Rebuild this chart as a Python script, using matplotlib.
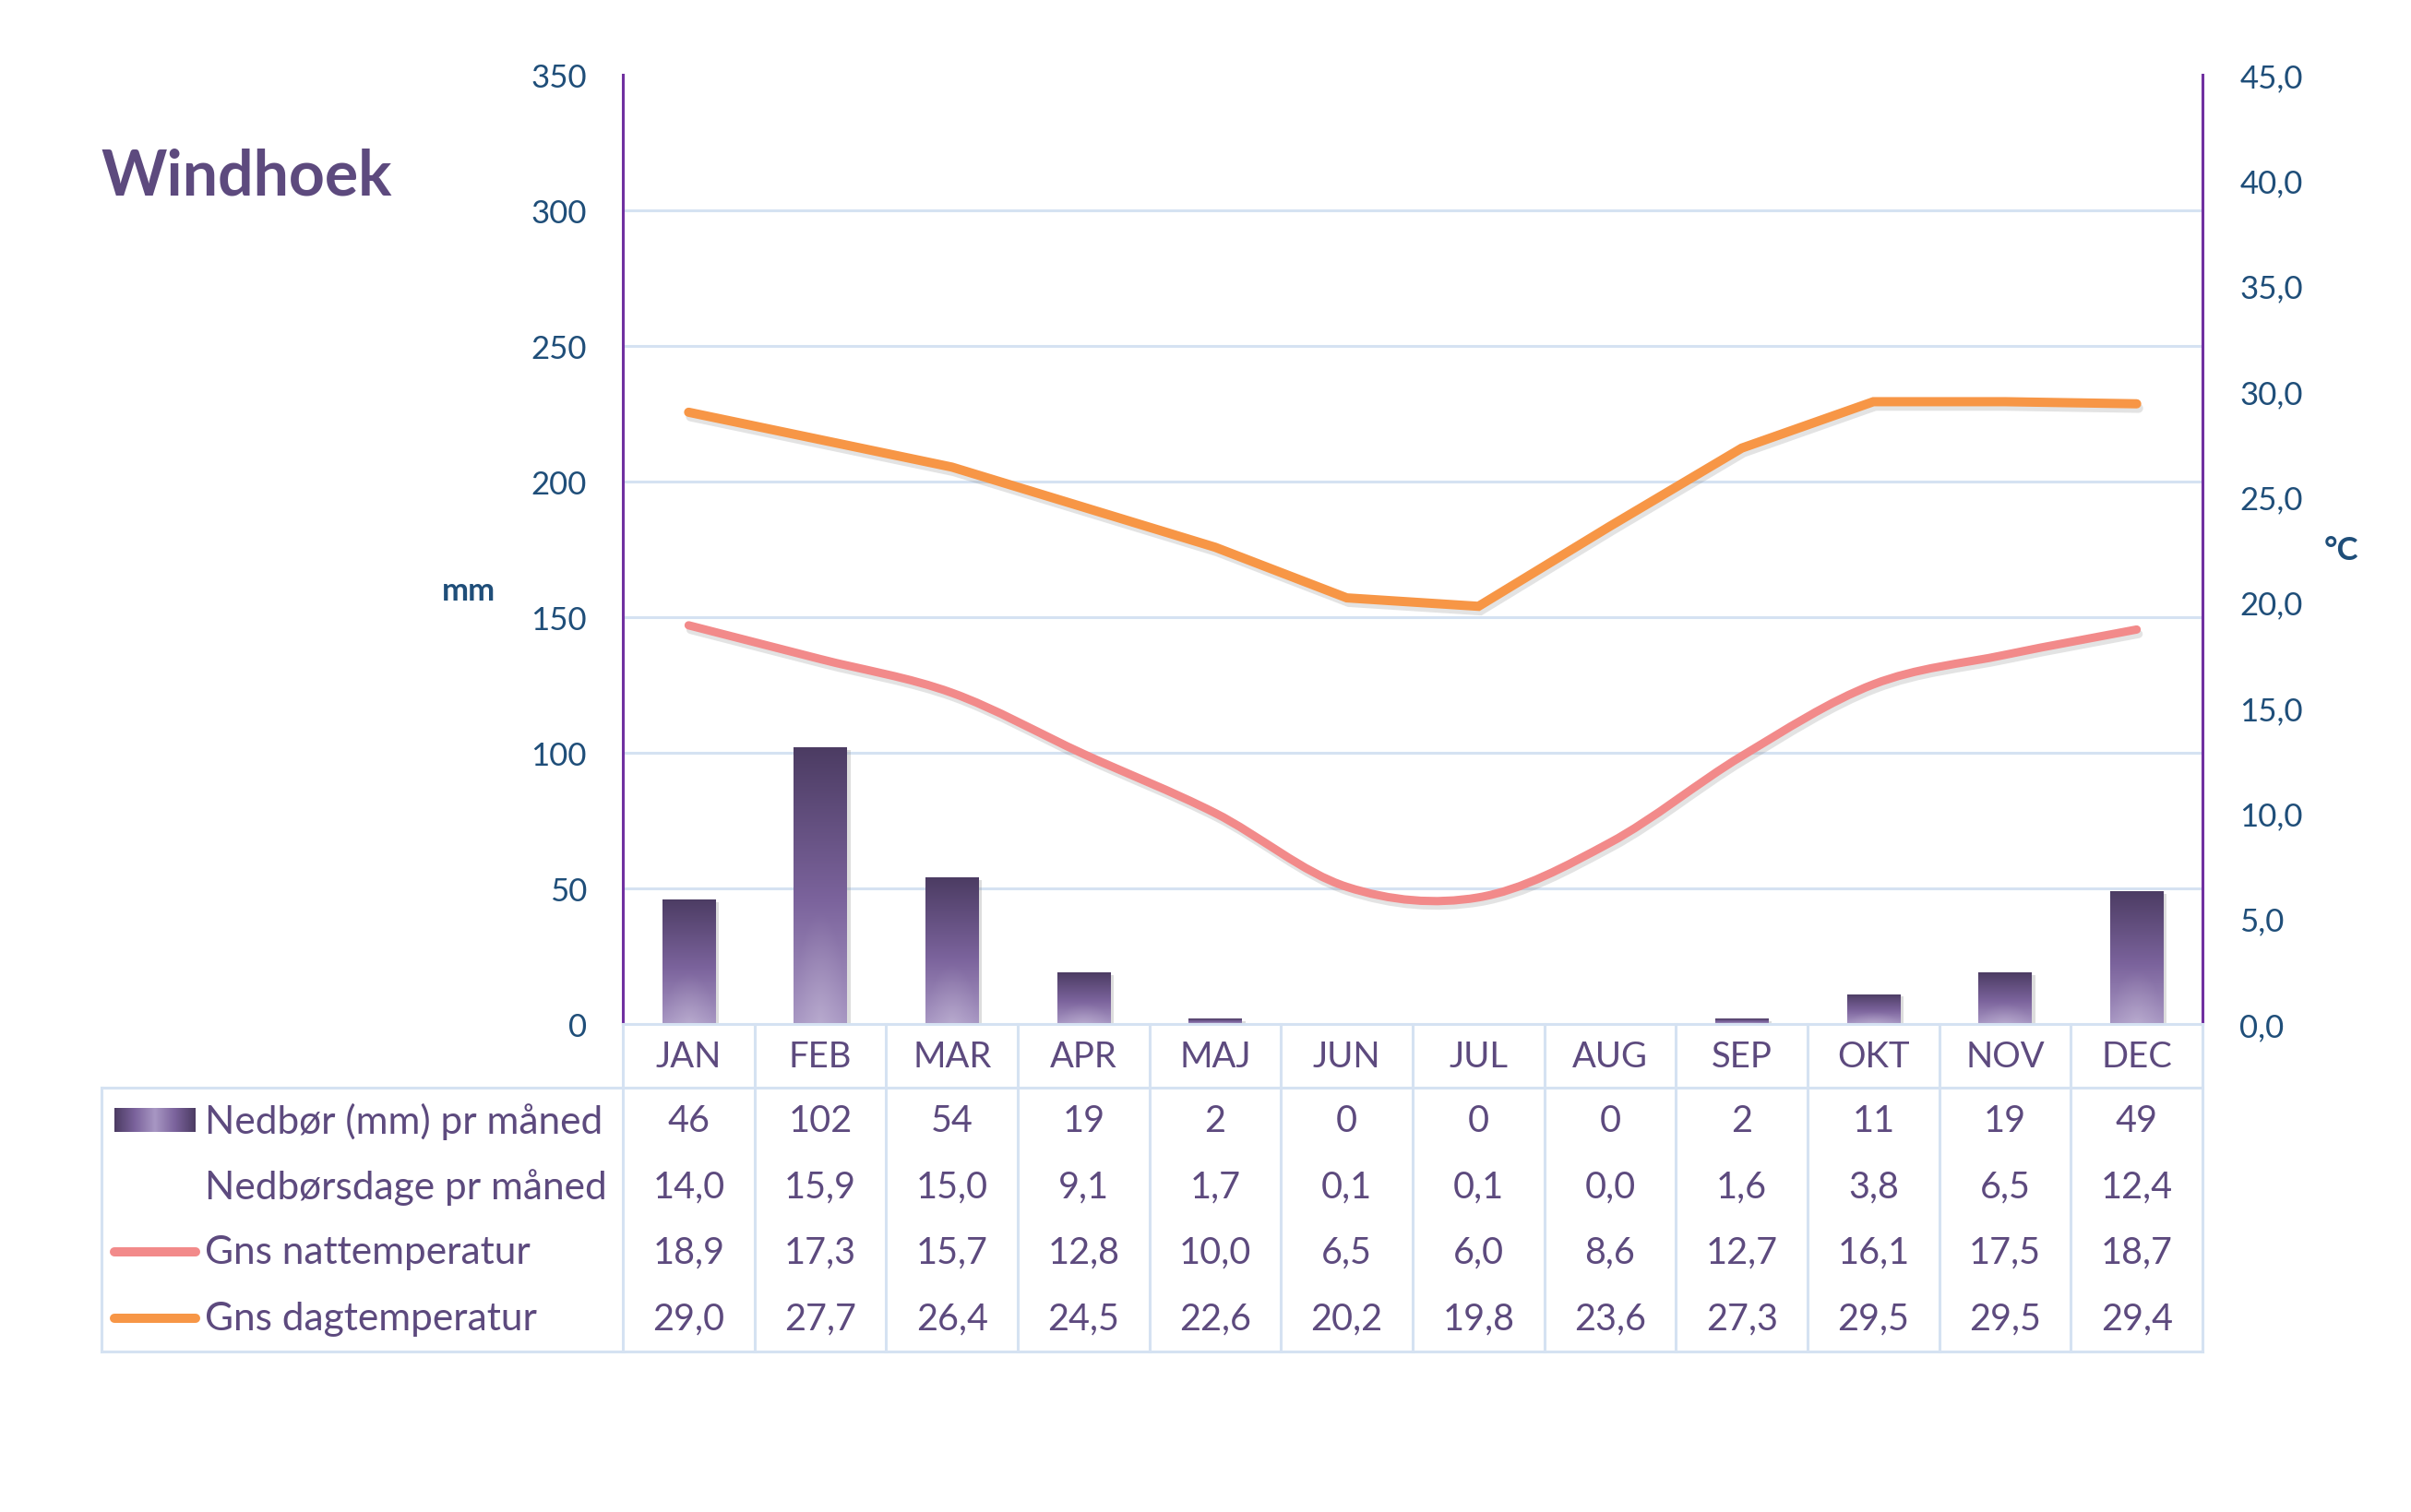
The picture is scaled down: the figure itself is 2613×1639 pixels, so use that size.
import numpy as np
import matplotlib
matplotlib.use("Agg")
import matplotlib.pyplot as plt
from matplotlib.path import Path
from matplotlib.patches import PathPatch
from matplotlib.ticker import FuncFormatter, MultipleLocator
import matplotlib.patheffects as pe

plt.rcParams['font.family'] = ['Lato', 'DejaVu Sans']

# data
months = ['JAN', 'FEB', 'MAR', 'APR', 'MAJ', 'JUN', 'JUL', 'AUG', 'SEP', 'OKT', 'NOV', 'DEC']
nedboer = [46, 102, 54, 19, 2, 0, 0, 0, 2, 11, 19, 49]
nedboersdage = [14.0, 15.9, 15.0, 9.1, 1.7, 0.1, 0.1, 0.0, 1.6, 3.8, 6.5, 12.4]
nattemp = [18.9, 17.3, 15.7, 12.8, 10.0, 6.5, 6.0, 8.6, 12.7, 16.1, 17.5, 18.7]
dagtemp = [29.0, 27.7, 26.4, 24.5, 22.6, 20.2, 19.8, 23.6, 27.3, 29.5, 29.5, 29.4]
row_labels = ['Nedbør (mm) pr måned', 'Nedbørsdage pr måned', 'Gns nattemperatur', 'Gns dagtemperatur']

# colours
PURPLE_TXT = '#5D4A7E'
BLUE_TXT = '#1F4E79'
AXIS_PURPLE = '#7030A0'
GRID = '#D5E2F2'
PINK = '#F28A8A'
ORANGE = '#F79646'

W, H = 2613, 1640
fig = plt.figure(figsize=(W / 100, H / 100), dpi=100)

# axes position in pixels
AX_L, AX_R, AX_T, AX_B = 675, 2387, 82, 1111
ax = fig.add_axes([AX_L / W, 1 - AX_B / H, (AX_R - AX_L) / W, (AX_B - AX_T) / H])
ax2 = ax.twinx()
n = len(months)
x = np.arange(n)

for a in (ax, ax2):
    for s in ('top', 'bottom', 'left', 'right'):
        a.spines[s].set_visible(False)
    a.tick_params(length=0)
    a.set_xticks([])
ax.spines['left'].set_visible(True)
ax.spines['left'].set_color(AXIS_PURPLE)
ax.spines['left'].set_linewidth(2.2)
ax2.spines['right'].set_visible(True)
ax2.spines['right'].set_color(AXIS_PURPLE)
ax2.spines['right'].set_linewidth(2.2)

ax.yaxis.set_major_locator(MultipleLocator(50))
ax2.yaxis.set_major_locator(MultipleLocator(5))
ax2.yaxis.set_major_formatter(FuncFormatter(lambda v, p: f"{v:.1f}".replace('.', ',')))
ax.tick_params(axis='y', labelsize=25, labelcolor=BLUE_TXT, pad=28)
ax2.tick_params(axis='y', labelsize=25, labelcolor=BLUE_TXT, pad=29)

for yv in range(50, 301, 50):
    ax.axhline(yv, color=GRID, lw=2.2, zorder=0)

# bars with gradient fill
grad_cols = np.array([[0x4C, 0x3C, 0x63], [0x7B, 0x63, 0x9C], [0xA8, 0x97, 0xC3]]) / 255.0
bars = ax.bar(x, nedboer, width=0.4, color='#7B639C', zorder=2,
              path_effects=[pe.SimplePatchShadow(offset=(3, -2), shadow_rgbFace='#909090', alpha=0.3),
                            pe.Normal()])
for b, v in zip(bars, nedboer):
    if v <= 0:
        continue
    t = np.linspace(0, 1, 200)[:, None]
    img = np.zeros((200, 40, 3))
    for c in range(3):
        img[:, :, c] = np.interp(t, [0, 0.55, 1], grad_cols[:, c])
    xx = np.linspace(-1, 1, 40)[None, :]
    rad = np.clip(1 - np.sqrt(xx ** 2 + ((1 - t) * 2.5) ** 2), 0, 1)
    img = img + (1 - img) * 0.18 * rad[:, :, None]
    im = ax.imshow(img, extent=(b.get_x(), b.get_x() + b.get_width(), 0, v),
                   aspect='auto', origin='upper', zorder=3, interpolation='bilinear')
    im.set_clip_path(b)
ax.set_xlim(-0.5, n - 0.5)
ax.set_ylim(0, 350)
ax2.set_ylim(0, 45)

shadow = [pe.SimpleLineShadow(offset=(1.5, -3.5), shadow_color='#808080', alpha=0.22), pe.Normal()]

# day temperature: straight segments
ax2.plot(x, dagtemp, color=ORANGE, lw=7.2, solid_capstyle='round', solid_joinstyle='miter',
         zorder=5, path_effects=shadow)

# night temperature: smoothed bezier
verts = [(x[0], nattemp[0])]
codes = [Path.MOVETO]
pts = np.column_stack([x, nattemp]).astype(float)
for i in range(n - 1):
    p0 = pts[max(i - 1, 0)]
    p1 = pts[i]
    p2 = pts[i + 1]
    p3 = pts[min(i + 2, n - 1)]
    c1 = p1 + (p2 - p0) / 6.0
    c2 = p2 - (p3 - p1) / 6.0
    verts += [tuple(c1), tuple(c2), tuple(p2)]
    codes += [Path.CURVE4] * 3
ax2.add_patch(PathPatch(Path(verts, codes), fill=False, edgecolor=PINK, lw=6.5,
                        capstyle='round', zorder=5, path_effects=shadow))

# overlay in pixel coordinates for title, table and legend
ov = fig.add_axes([0, 0, 1, 1], zorder=10)
ov.axis('off')
ov.patch.set_alpha(0)

ov.text(109, 212, 'Windhoek', fontsize=49, fontweight='bold', color=PURPLE_TXT, ha='left', va='baseline')
ov.text(508, 641, 'mm', fontsize=25, fontweight='bold', color=BLUE_TXT, ha='center', va='center')
ov.text(2537, 597, '°C', fontsize=25, fontweight='bold', color=BLUE_TXT, ha='center', va='center')

TB_L = 110
HDR_B = 1180
TB_B = 1466
col_w = (AX_R - AX_L) / n
lw_t = 2.2
ov.plot([AX_L, AX_R], [AX_B, AX_B], color=GRID, lw=lw_t)
ov.plot([TB_L, AX_R], [HDR_B, HDR_B], color=GRID, lw=lw_t)
ov.plot([TB_L, AX_R], [TB_B, TB_B], color=GRID, lw=lw_t)
ov.plot([TB_L, TB_L], [HDR_B, TB_B], color=GRID, lw=lw_t)
for k in range(n + 1):
    xc = AX_L + k * col_w
    ov.plot([xc, xc], [AX_B, TB_B], color=GRID, lw=lw_t)

row_y = [1216, 1287, 1358, 1430]
for i, m in enumerate(months):
    xc = AX_L + (i + 0.5) * col_w
    ov.text(xc, 1146, m, fontsize=27.5, color=PURPLE_TXT, ha='center', va='center')
    vals = [str(nedboer[i]),
            f"{nedboersdage[i]:.1f}".replace('.', ','),
            f"{nattemp[i]:.1f}".replace('.', ','),
            f"{dagtemp[i]:.1f}".replace('.', ',')]
    for ry, v in zip(row_y, vals):
        ov.text(xc, ry, v, fontsize=28.5, color=PURPLE_TXT, ha='center', va='center')

for ry, lab in zip(row_y, row_labels):
    ov.text(222, ry, lab, fontsize=30.5, color=PURPLE_TXT, ha='left', va='center')

# legend keys
sw = np.zeros((50, 100, 3))
for c in range(3):
    sw[:, :, c] = np.interp(np.abs(np.linspace(-1, 1, 100))[None, :] * np.ones((50, 1)),
                            [0, 0.5, 1], grad_cols[::-1, c])
ov.imshow(sw, extent=(124, 212, 1228, 1202), aspect='auto', zorder=11)
ov.plot([124, 212], [1358, 1358], color=PINK, lw=7.2, solid_capstyle='round')
ov.plot([124, 212], [1430, 1430], color=ORANGE, lw=7.2, solid_capstyle='round')
ov.set_xlim(0, W)
ov.set_ylim(H, 0)

fig.savefig('out.png', dpi=100, facecolor='white')
